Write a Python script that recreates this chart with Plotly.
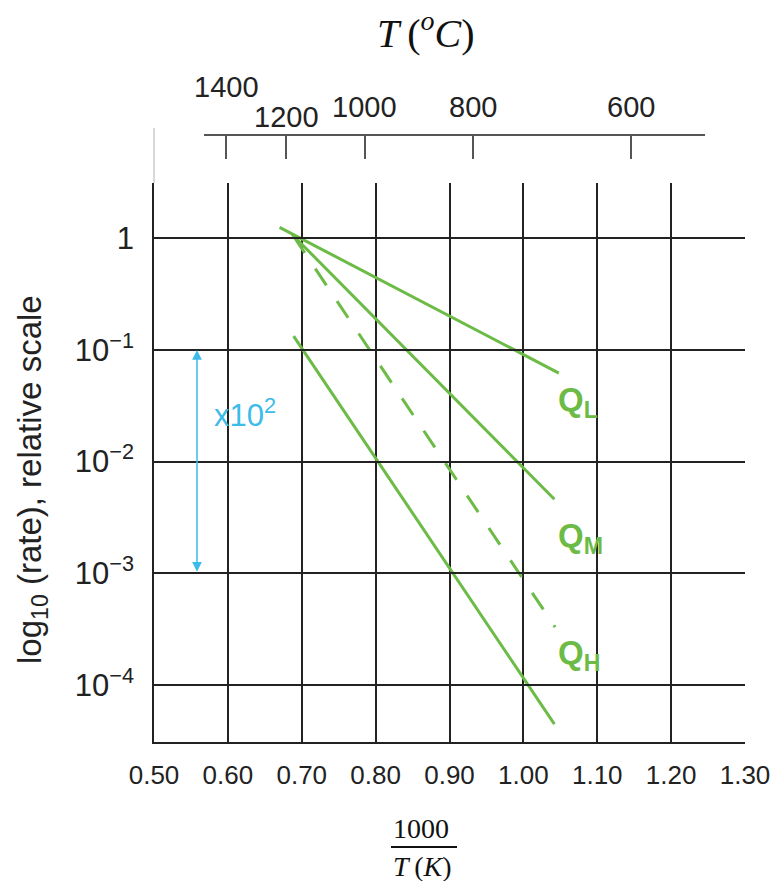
import plotly.graph_objects as go

# ---- data ----
x_ticks = [0.50, 0.60, 0.70, 0.80, 0.90, 1.00, 1.10, 1.20, 1.30]
x_ticktext = ["0.50", "0.60", "0.70", "0.80", "0.90", "1.00", "1.10", "1.20", "1.30"]
y_ticks = [1, 1e-1, 1e-2, 1e-3, 1e-4]
y_ticktext = ["1", "10<sup>−1</sup>", "10<sup>−2</sup>", "10<sup>−3</sup>", "10<sup>−4</sup>"]
top_T_C = [1400, 1200, 1000, 800, 600]
top_label_raise = [1, 0, 0.35, 0.35, 0.35]   # stagger levels of the top labels

QL_x = [0.670, 1.048]
QL_rate = [1.25, 0.062]
QM_x = [0.687, 1.042]
QM_rate = [1.08, 0.0046]
QH_x = [0.689, 1.043]
QH_rate = [1.04, 0.00033]
QH2_x = [0.689, 1.042]
QH2_rate = [0.133, 0.0000446]

GREEN = "#6cbb46"
BLUE = "#3dbbe9"
GRID = "#222222"

OFF = 8  # page offset of the figure inside the browser window
W, H = 782, 881
PLOT_L, PLOT_R, PLOT_T, PLOT_B = 154, 745, 128, 742   # in window pixels
ML = PLOT_L - OFF
MT = PLOT_T - OFF
MR = W - (PLOT_R - OFF)
MB = H - (PLOT_B - OFF)
PW = W - ML - MR
PH = H - MT - MB


def py(p):  # window pixel row -> paper y
    return (PLOT_B - p) / PH


def px(p):  # window pixel column -> paper x
    return (p - PLOT_L) / PW


PX_PER_UNIT = PW / 0.8

fig = go.Figure()

line_style = dict(color=GREEN, width=3)
fig.add_trace(go.Scatter(x=QL_x, y=QL_rate, mode="lines", line=line_style, showlegend=False))
fig.add_trace(go.Scatter(x=QM_x, y=QM_rate, mode="lines", line=line_style, showlegend=False))
fig.add_trace(go.Scatter(x=QH_x, y=QH_rate, mode="lines",
                         line=dict(color=GREEN, width=3, dash="20px,19px"), showlegend=False))
fig.add_trace(go.Scatter(x=QH2_x, y=QH2_rate, mode="lines", line=line_style, showlegend=False))

# invisible trace registering the top (°C) axis
top_x = [1000.0 / (t + 273.0) for t in top_T_C]
fig.add_trace(go.Scatter(x=top_x, y=[1] * len(top_x), xaxis="x2", yaxis="y",
                         mode="markers", marker=dict(opacity=0), hoverinfo="skip",
                         showlegend=False))

y_dom_top = py(183)

fig.update_layout(
    width=W, height=H,
    margin=dict(l=ML, r=MR, t=MT, b=MB),
    paper_bgcolor="white", plot_bgcolor="rgba(0,0,0,0)",
    font=dict(family="Liberation Sans, Arial, sans-serif", color="#222"),
    xaxis=dict(
        range=[0.5, 1.3], tickvals=x_ticks, ticktext=x_ticktext,
        showgrid=True, gridcolor=GRID, gridwidth=1.6,
        showline=True, linecolor=GRID, linewidth=1.6,
        ticks="", zeroline=False,
        tickfont=dict(family="Liberation Sans, Arial, sans-serif", size=26, color="#222"),
        ticklabelstandoff=9,
    ),
    yaxis=dict(
        type="log", range=[-4.51, 0.494], domain=[0, y_dom_top],
        tickvals=y_ticks, ticktext=y_ticktext,
        showgrid=True, gridcolor=GRID, gridwidth=1.6,
        showline=True, linecolor=GRID, linewidth=1.6,
        ticks="", zeroline=False,
        tickfont=dict(size=31, color="#222"),
        ticklabelstandoff=12,
    ),
    xaxis2=dict(
        anchor="free", position=py(135), side="top",
        domain=[px(204), px(705)],
        range=[0.5 + (204 - PLOT_L) / PX_PER_UNIT, 0.5 + (705 - PLOT_L) / PX_PER_UNIT],
        tickvals=top_x, showticklabels=False,
        ticks="inside", ticklen=23, tickwidth=1.5, tickcolor="#555",
        showline=True, linecolor="#555", linewidth=1.5,
        showgrid=False, zeroline=False,
    ),
)

ann = []
# top axis labels (°C)
for xv, t, lv in zip(top_x, top_T_C, top_label_raise):
    ypix = 117 - 30 * lv
    ann.append(dict(x=xv, xref="x2", y=py(ypix), yref="paper", text=str(t),
                    showarrow=False, font=dict(size=29, color="#222"),
                    xanchor="center", yanchor="middle"))

serif = "Liberation Serif, Times New Roman, serif"
# top title T(°C)
ann.append(dict(x=px(426), y=py(31), xref="paper", yref="paper",
                text="<i>T</i>\u2009(<sup><i>o</i></sup><i>C</i>)", showarrow=False,
                font=dict(family=serif, size=40, color="#111"),
                xanchor="center", yanchor="middle"))

# bottom title fraction
ann.append(dict(x=px(421), y=py(828), xref="paper", yref="paper", text="1000",
                showarrow=False, font=dict(family=serif, size=28, color="#111"),
                xanchor="center", yanchor="middle"))
ann.append(dict(x=px(422), y=py(866), xref="paper", yref="paper",
                text="<i>T</i>\u2009(<i>K</i>)", showarrow=False,
                font=dict(family=serif, size=28, color="#111"),
                xanchor="center", yanchor="middle"))

# y-axis title
ann.append(dict(x=px(32), y=py(480), xref="paper", yref="paper",
                text="log<sub>10</sub> (rate), relative scale", textangle=-90,
                showarrow=False, font=dict(size=33, color="#222"),
                xanchor="center", yanchor="middle"))

# Q labels
q_font = dict(size=33, color=GREEN, family="Liberation Sans, Arial, sans-serif", weight="bold")
for label, logy in [("Q<sub>L</sub>", -1.47), ("Q<sub>M</sub>", -2.68), ("Q<sub>H</sub>", -3.73)]:
    ann.append(dict(x=1.044, y=logy, xref="x", yref="y", text=label, showarrow=False,
                    font=q_font, xanchor="left", yanchor="middle"))

# blue double arrow (x10^2)
ann.append(dict(x=0.5582, y=-1, xref="x", yref="y", ax=0.5582, ay=-3, axref="x", ayref="y",
                text="", showarrow=True, arrowside="end+start", arrowhead=2,
                arrowsize=1.3, arrowwidth=1.5, arrowcolor=BLUE, standoff=0, startstandoff=0))
ann.append(dict(x=0.5785, y=-1.567, xref="x", yref="y", text="x10<sup>2</sup>",
                showarrow=False, font=dict(size=31, color=BLUE),
                xanchor="left", yanchor="middle"))

fig.update_layout(annotations=ann)

shapes = [
    # fraction bar
    dict(type="line", xref="paper", yref="paper", x0=px(391), x1=px(457),
         y0=py(847), y1=py(847), line=dict(color="#111", width=2)),
    # faint vertical stub above the plot at left
    dict(type="line", xref="paper", yref="paper", x0=0, x1=0,
         y0=py(183), y1=py(128), line=dict(color="#cccccc", width=1.5)),
]
fig.update_layout(shapes=shapes)

fig.write_html("out.html")
